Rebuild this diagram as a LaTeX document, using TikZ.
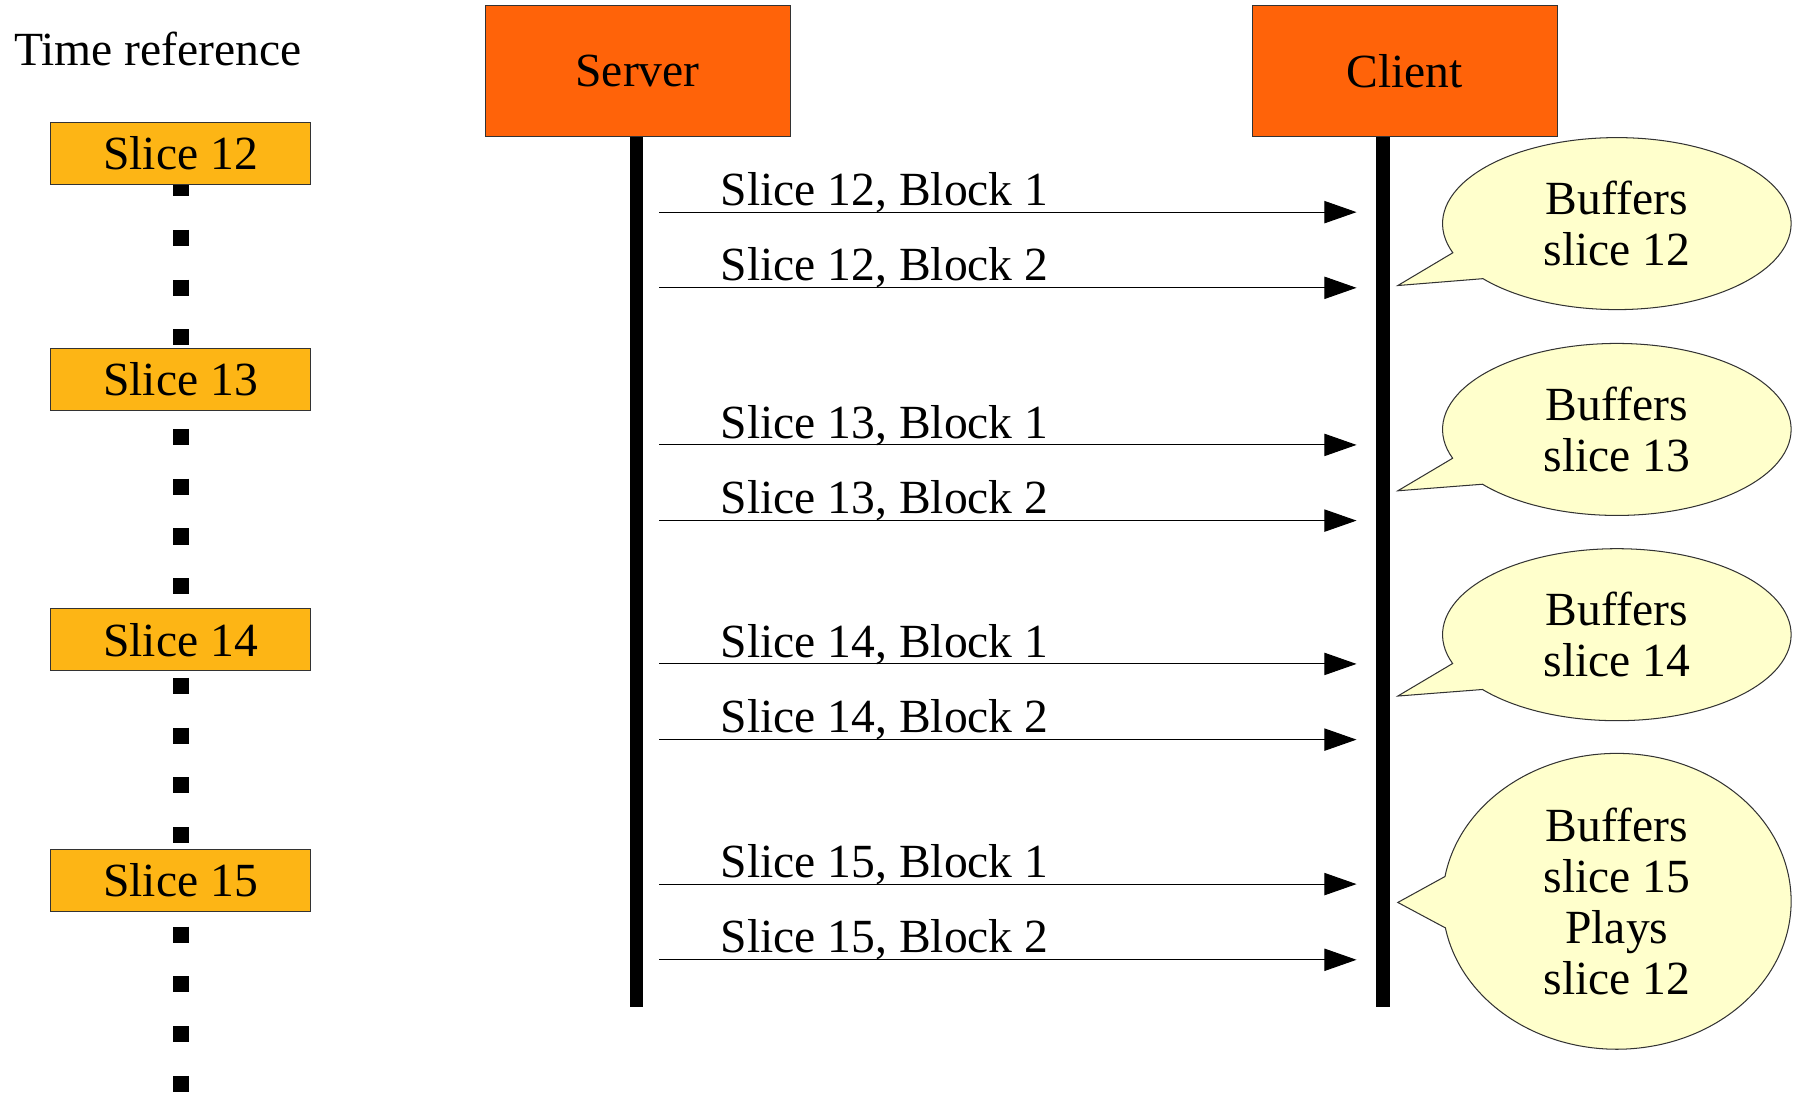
\documentclass[tikz,border=0pt]{standalone}
\usepackage{fontspec}
\setmainfont{Liberation Serif}
\usetikzlibrary{arrows.meta,shapes.callouts,backgrounds}
\definecolor{sliceorange}{HTML}{FDB515}
\definecolor{peerorange}{HTML}{FF6309}
\definecolor{bubblefill}{HTML}{FFFFCC}
\definecolor{edgegray}{HTML}{333333}
\begin{document}
\begin{tikzpicture}[x=0.5pt,y=-0.5pt,
  every node/.style={font=\fontsize{20.75pt}{22.3pt}\selectfont},
  slicebox/.style={draw=edgegray,line width=0.45pt,fill=sliceorange,
    minimum width=113.5pt,minimum height=27pt,inner sep=0pt},
  peerbox/.style={draw=edgegray,line width=0.45pt,fill=peerorange,
    minimum width=133pt,minimum height=57pt,inner sep=0pt},
  lifeline/.style={line width=6pt,black},
  ticks/.style={line width=7pt,dash pattern=on 7pt off 14.7pt,dash phase=2.2pt},
  msg/.style={line width=0.45pt,-{Triangle[length=14pt,width=9.7pt]}},
  msglabel/.style={anchor=base west,inner sep=0pt},
  bubble/.style={ellipse callout,draw=edgegray,line width=0.45pt,fill=bubblefill,
    callout pointer arc=20,minimum width=152pt,minimum height=75pt,
    inner sep=0pt,align=center}
]
\useasboundingbox (0,0) rectangle (1568,953);

% time axis on the left
\node[anchor=base west,inner sep=0pt] (timeref) at (12,57) {Time reference};
\node[slicebox] (s12) at (157.5,134) {Slice 12};
\node[slicebox] (s13) at (157.5,331) {Slice 13};
\node[slicebox] (s14) at (157.5,558) {Slice 14};
\node[slicebox] (s15) at (157.5,768) {Slice 15};
\coordinate (tickend) at (157.5,953);
\begin{scope}[on background layer]
  \draw[ticks] (s12.south) -- (tickend);
\end{scope}

% participants and lifelines
\node[peerbox] (server) at (556,62) {Server};
\node[peerbox] (client) at (1225,62) {Client};
\coordinate (serverend) at (555,878);
\coordinate (clientend) at (1206,878);
\draw[lifeline] (serverend |- server.south) -- (serverend);
\draw[lifeline] (clientend |- client.south) -- (clientend);

% block transfers
\foreach \y/\s/\b [count=\i] in {185/12/1,251/12/2,388/13/1,454/13/2,579/14/1,645/14/2,771/15/1,837/15/2}{
  \coordinate (from\i) at (575,\y);
  \coordinate (to\i) at (1183,\y);
  \draw[msg] (from\i) -- (to\i);
  \node[msglabel] (lbl\i) at (628,\y-6) {Slice \s, Block \b};
}

% client state bubbles
\node[bubble, callout absolute pointer={(1219,249)}] (c12) at (1410,195) {Buffers\\slice 12};
\node[bubble, callout absolute pointer={(1219,428)}] (c13) at (1410,374.5) {Buffers\\slice 13};
\node[bubble, callout absolute pointer={(1219,607)}] (c14) at (1410,553.5) {Buffers\\slice 14};
\node[bubble, minimum height=129pt, callout absolute pointer={(1219,787)}] (c15) at (1410,786) {Buffers\\slice 15\\Plays\\slice 12};
\end{tikzpicture}
\end{document}
